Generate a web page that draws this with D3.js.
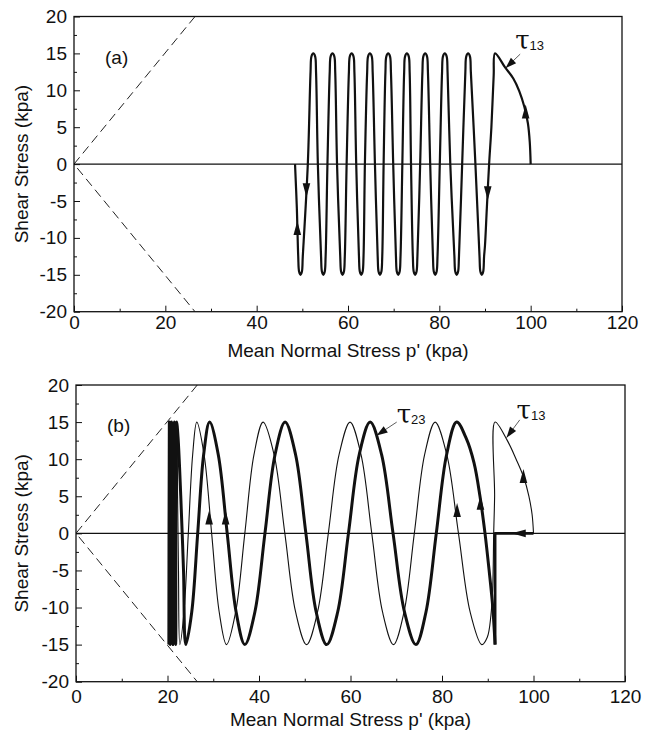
<!DOCTYPE html>
<html>
<head>
<meta charset="utf-8">
<script src="https://cdn.jsdelivr.net/npm/d3@7"></script>
<style>
    body { margin: 0; background: #fff; }
    svg text { font-family: Arial, "Liberation Sans", sans-serif; fill: #111; }
</style>
</head>
<body>
<svg id="chart" width="653" height="731"></svg>
<script>
// axis values
let xTicks = [0, 20, 40, 60, 80, 100, 120],
    xMinorTicks = [10, 30, 50, 70, 90, 110],
    yTicks = [-20, -15, -10, -5, 0, 5, 10, 15, 20],
    yMinorTicks = [-17.5, -12.5, -7.5, -2.5, 2.5, 7.5, 12.5, 17.5]

// failure envelope and zero line (p', tau)
let failureLine = [[26.5, 20], [0, 0], [26.5, -20]],
    zeroLine = [[0, 0], [120, 0]]

// panel (a): tau13 stress path
let pathA = [
    [100, 0], [99.8, 3], [99.4, 5.5], [98.6, 7.8], [97.5, 9.9], [96.2, 11.6], [94.4, 13.1], [92.2, 15],
    [91.9, 12], [91.4, 5], [90.9, 0], [90.4, -6], [90.0, -11], [89.8, -12.5], [89.6, -14.6], [89.3, -15], [89.0, -14.6], [88.8, -12.5],
    [87.9, 0], [86.9, 12.5], [86.7, 14.6], [86.3, 15], [85.9, 14.6], [85.7, 12.5],
    [85.0, 0], [84.3, -12.5], [84.1, -14.6], [83.8, -15], [83.5, -14.6], [83.3, -12.5],
    [82.4, 0], [81.8, 12.5], [81.6, 14.6], [81.2, 15], [80.8, 14.6], [80.6, 12.5],
    [80.1, 0], [79.6, -12.5], [79.4, -14.6], [79.1, -15], [78.8, -14.6], [78.6, -12.5],
    [78.0, 0], [77.5, 12.5], [77.3, 14.6], [76.9, 15], [76.5, 14.6], [76.3, 12.5],
    [75.8, 0], [75.2, -12.5], [75.0, -14.6], [74.7, -15], [74.4, -14.6], [74.2, -12.5],
    [73.8, 0], [73.5, 12.5], [73.3, 14.6], [72.9, 15], [72.5, 14.6], [72.3, 12.5],
    [71.9, 0], [71.5, -12.5], [71.3, -14.6], [71.0, -15], [70.7, -14.6], [70.5, -12.5],
    [69.9, 0], [69.4, 12.5], [69.2, 14.6], [68.8, 15], [68.4, 14.6], [68.2, 12.5],
    [67.8, 0], [67.5, -12.5], [67.3, -14.6], [67.0, -15], [66.7, -14.6], [66.5, -12.5],
    [65.9, 0], [65.4, 12.5], [65.2, 14.6], [64.8, 15], [64.4, 14.6], [64.2, 12.5],
    [63.7, 0], [63.4, -12.5], [63.2, -14.6], [62.9, -15], [62.6, -14.6], [62.4, -12.5],
    [61.8, 0], [61.4, 12.5], [61.2, 14.6], [60.8, 15], [60.4, 14.6], [60.2, 12.5],
    [59.7, 0], [59.3, -12.5], [59.1, -14.6], [58.8, -15], [58.5, -14.6], [58.3, -12.5],
    [57.6, 0], [57.2, 12.5], [57.0, 14.6], [56.6, 15], [56.2, 14.6], [56.0, 12.5],
    [55.5, 0], [55.1, -12.5], [54.9, -14.6], [54.6, -15], [54.3, -14.6], [54.1, -12.5],
    [53.4, 0], [53.0, 12.5], [52.8, 14.6], [52.4, 15], [52.0, 14.6], [51.8, 12.5],
    [51.2, 0], [50.1, -12.5], [49.9, -14.6], [49.6, -15], [49.3, -14.6], [49.1, -12.5],
    [48.8, -6], [48.4, 0]
]
let arrowsA = [[98.9, 7, 'up'], [90.6, -3.8, 'down'], [50.9, -3.4, 'down'], [48.9, -8.8, 'up']]
let labelsA = [{sub: '13', p: 96.6, t: 15.6, tail: [97.7, 14.9], tip: [94.5, 13.0]}]

// panel (b): tau13 (thin) and tau23 (thick)
let tau13B = [
    [100, 0], [99.7, 2.5], [99.0, 5], [97.9, 7.5], [96.2, 10], [94.2, 12.6], [91.6, 15],
    [91.5, 5], [91.3, 0], [91.1, -7], [90.7, -11], [89.9, -14], [88.7, -15],
    [86.15, -10.6], [83.6, 0], [81.05, 10.6], [78.5, 15],
    [76.2, 10.6], [73.95, 0], [71.7, -10.6], [69.4, -15],
    [67.0, -10.6], [64.65, 0], [62.3, 10.6], [59.9, 15],
    [57.5, 10.6], [55.15, 0], [52.8, -10.6], [50.4, -15],
    [48.0, -10.6], [45.65, 0], [43.3, 10.6], [40.9, 15],
    [38.9, 10.6], [36.9, 0], [34.9, -10.6], [32.9, -15],
    [31.3, -10.6], [29.65, 0], [28.0, 10.6], [26.4, 15],
    [25.5, 10.6], [24.55, 0], [23.6, -10.6], [22.7, -15],
    [22.4, -5], [22.2, 5], [22.1, 15], [21.7, -15], [21.3, 15], [20.9, -15], [20.5, 15], [20.3, -15]
]
let tau23StartB = [[100, 0], [91.6, 0], [91.6, -15]]
let tau23B = [
    [91.6, -15], [91.1, -10], [90.3, -5], [89.4, 0], [88.3, 5], [87.0, 9.5], [85.3, 12.8], [83.2, 15],
    [81.0, 10.6], [78.75, 0], [76.5, -10.6], [74.3, -15],
    [71.8, -10.6], [69.3, 0], [66.8, 10.6], [64.3, 15],
    [61.9, 10.6], [59.55, 0], [57.2, -10.6], [54.8, -15],
    [52.5, -10.6], [50.25, 0], [48.0, 10.6], [45.7, 15],
    [43.5, 10.6], [41.3, 0], [39.1, -10.6], [36.9, -15],
    [35.0, -10.6], [33.05, 0], [31.1, 10.6], [29.2, 15],
    [27.9, 10.6], [26.6, 0], [25.3, -10.6], [24.0, -15],
    [23.5, -5], [22.9, 5], [22.3, 13], [22.0, 15], [21.8, -15], [21.5, 15], [21.2, -15],
    [20.9, 15], [20.6, -15], [20.4, 15], [20.3, -15]
]
let arrowsB = [[97.8, 7.6, 'up'], [97.0, 0, 'left'], [83.3, 3, 'up'], [88.4, 4, 'up'], [29.1, 2, 'up'], [32.7, 2, 'up']]
let labelsB = [
    {sub: '23', p: 70.1, t: 14.9, tail: [70.1, 15.0], tip: [65.7, 13.2]},
    {sub: '13', p: 96.3, t: 15.4, tail: [97.0, 15.3], tip: [94.1, 12.9]}
]

let svg = d3.select('#chart')

function drawPanel(box, tag, lines, arrows, labels) {
    let x = d3.scaleLinear().domain([0, 120]).range([box.left, box.right]),
        y = d3.scaleLinear().domain([-20, 20]).range([box.bottom, box.top])
    let g = svg.append('g')
    let line = d3.line().x(d => x(d[0])).y(d => y(d[1]))

    function styleAxis(a) {
        a.select('.domain').remove()
        a.attr('font-size', 19).attr('font-family', 'Arial, "Liberation Sans", sans-serif').attr('color', '#111')
    }

    // bottom axis, ticks pointing inward
    g.append('g')
        .attr('transform', 'translate(0,' + box.bottom + ')')
        .call(d3.axisBottom(x).tickValues(xMinorTicks).tickSizeInner(-3).tickSizeOuter(0).tickFormat(''))
        .call(styleAxis)
    g.append('g')
        .attr('transform', 'translate(0,' + box.bottom + ')')
        .call(d3.axisBottom(x).tickValues(xTicks).tickSizeInner(-6).tickSizeOuter(0)
            .tickPadding(box.xPad).tickFormat(d => String(d)))
        .call(styleAxis)

    // left axis
    g.append('g')
        .attr('transform', 'translate(' + box.left + ',0)')
        .call(d3.axisLeft(y).tickValues(yMinorTicks).tickSizeInner(-3).tickSizeOuter(0).tickFormat(''))
        .call(styleAxis)
    g.append('g')
        .attr('transform', 'translate(' + box.left + ',0)')
        .call(d3.axisLeft(y).tickValues(yTicks).tickSizeInner(-6).tickSizeOuter(0)
            .tickPadding(7).tickFormat(d => String(d)))
        .call(styleAxis)

    // axis titles
    g.append('text')
        .attr('x', (box.left + box.right) / 2)
        .attr('y', box.titleY)
        .attr('text-anchor', 'middle')
        .attr('font-size', 19)
        .text("Mean Normal Stress p' (kpa)")
    g.append('text')
        .attr('transform', 'translate(28,' + (box.top + box.bottom) / 2 + ') rotate(-90)')
        .attr('text-anchor', 'middle')
        .attr('font-size', 19)
        .text('Shear Stress (kpa)')

    g.append('text')
        .attr('x', box.left + 31)
        .attr('y', box.top + 47)
        .attr('font-size', 19)
        .text(tag)

    // failure lines and zero line
    g.append('path')
        .attr('d', line(failureLine))
        .attr('fill', 'none')
        .attr('stroke', '#222')
        .attr('stroke-width', 1)
        .attr('stroke-dasharray', '9,5')
    g.append('path')
        .attr('d', line(zeroLine))
        .attr('fill', 'none')
        .attr('stroke', '#111')
        .attr('stroke-width', 1.2)

    lines.forEach(l => {
        g.append('path')
            .attr('d', line.curve(l.curve)(l.data))
            .attr('fill', 'none')
            .attr('stroke', '#111')
            .attr('stroke-width', l.width)
            .attr('stroke-linejoin', 'round')
    })

    let rot = {up: 0, down: 180, left: -90}
    g.selectAll('.arrow')
        .data(arrows)
        .enter()
        .append('path')
        .attr('class', 'arrow')
        .attr('d', 'M0,-8L3.8,6L-3.8,6Z')
        .attr('fill', '#111')
        .attr('transform', d => 'translate(' + x(d[0]) + ',' + y(d[1]) + ') rotate(' + rot[d[2]] + ')')

    // tau labels with leader arrows
    labels.forEach(d => {
        let x0 = x(d.tail[0]), y0 = y(d.tail[1]),
            x1 = x(d.tip[0]), y1 = y(d.tip[1]),
            ang = Math.atan2(y1 - y0, x1 - x0) * 180 / Math.PI
        g.append('line')
            .attr('x1', x0).attr('y1', y0).attr('x2', x1).attr('y2', y1)
            .attr('stroke', '#333')
            .attr('stroke-width', 0.8)
        g.append('path')
            .attr('d', 'M0,0L-11,-3.8L-11,3.8Z')
            .attr('fill', '#111')
            .attr('transform', 'translate(' + x1 + ',' + y1 + ') rotate(' + ang + ')')
        let t = g.append('text')
            .attr('x', x(d.p))
            .attr('y', y(d.t))
        t.append('tspan')
            .attr('font-family', '"DejaVu Serif", "Liberation Serif", serif')
            .attr('font-size', 26)
            .text('τ')
        t.append('tspan')
            .attr('font-size', 13)
            .attr('dy', 1)
            .text(d.sub)
    })

    // frame
    g.append('rect')
        .attr('x', box.left)
        .attr('y', box.top)
        .attr('width', box.right - box.left)
        .attr('height', box.bottom - box.top)
        .attr('fill', 'none')
        .attr('stroke', '#111')
        .attr('stroke-width', 1.3)
}

let crm = d3.curveCatmullRom.alpha(0.5)

drawPanel({left: 74, right: 622, top: 16.5, bottom: 311.7, xPad: 3.5, titleY: 357}, '(a)',
    [{data: pathA, width: 2.2, curve: crm}],
    arrowsA, labelsA)

drawPanel({left: 76, right: 625, top: 385, bottom: 681.7, xPad: 8, titleY: 726}, '(b)',
    [
        {data: tau13B, width: 1.1, curve: crm},
        {data: tau23StartB, width: 2.8, curve: d3.curveLinear},
        {data: tau23B, width: 3, curve: crm}
    ],
    arrowsB, labelsB)
</script>
</body>
</html>
